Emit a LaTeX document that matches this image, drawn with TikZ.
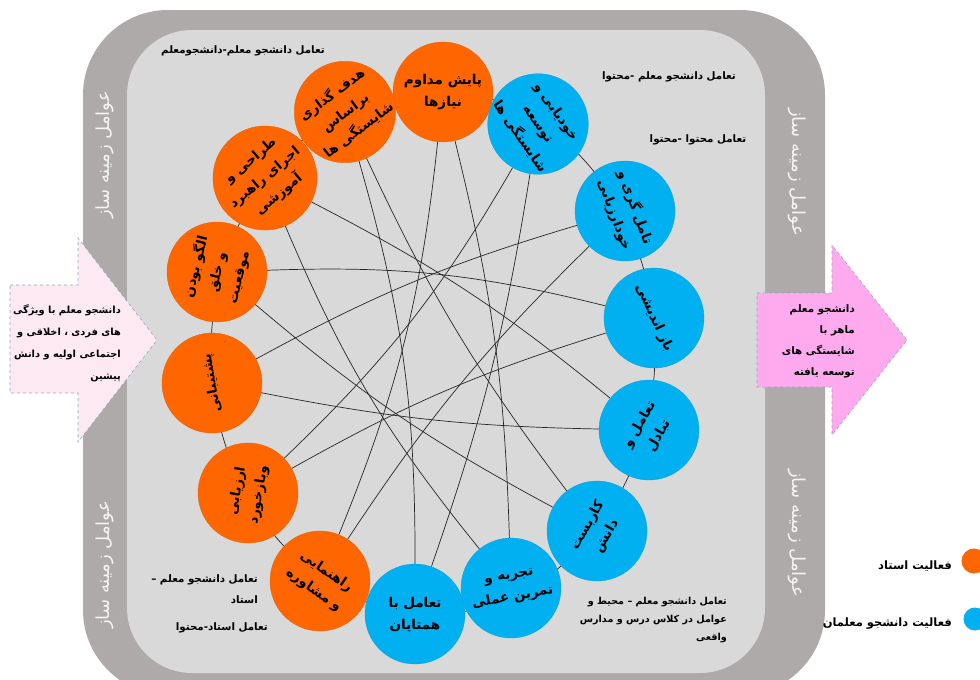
\documentclass[tikz,border=0pt]{standalone}
\usepackage{fontspec}
\newfontfamily\arabicfont[Script=Arabic]{DejaVu Sans}
\TeXXeTstate=1
\newcommand{\pers}[1]{\beginR#1\endR}
\definecolor{ostadorange}{HTML}{FF6600}
\definecolor{daneshblue}{HTML}{00B0F0}
\definecolor{innergray}{HTML}{D9D9D9}
\definecolor{outergray}{HTML}{AEAAAA}
\definecolor{inpink}{HTML}{FDE9F1}
\definecolor{outpink}{HTML}{FFAAEE}
\definecolor{dashblue}{HTML}{8EA9C1}
\pgfdeclarelayer{back}
\pgfdeclarelayer{links}
\pgfsetlayers{back,links,main}
\begin{document}
\begin{tikzpicture}[x=1pt,y=-1pt,
  ostad/.style={circle, fill=ostadorange, draw=ostadorange!92!black, line width=0.3pt, minimum size=100pt, inner sep=0pt, align=center, font=\arabicfont\bfseries\fontsize{13.5}{22}\selectfont},
  danesh/.style={ostad, fill=daneshblue, draw=daneshblue!92!black},
  link/.style={draw=black!85, line width=0.7pt},
  note/.style={align=right, inner sep=0pt, font=\arabicfont\bfseries\fontsize{10.3}{21}\selectfont},
  band/.style={text=white!96!black, inner sep=0pt, font=\arabicfont\fontsize{18}{20}\selectfont},
  arrowbox/.style={draw=dashblue, dashed, line width=0.6pt}]
\useasboundingbox (0,0) rectangle (980,680);
\begin{pgfonlayer}{back}
\fill[outergray, rounded corners=85pt] (83,10) rectangle (825,695);
\fill[innergray, rounded corners=65pt] (127,30) rectangle (765,673);
\draw[arrowbox, fill=inpink] (10,285) -- (78,285) -- (78,238) -- (157,340) -- (78,442) -- (78,393) -- (10,393) -- cycle;
\draw[arrowbox, fill=outpink] (757,293) -- (832,293) -- (832,245) -- (907,340) -- (832,435) -- (832,387) -- (757,387) -- cycle;
\end{pgfonlayer}
\node[ostad] (v1) at (443,92) {\pers{پایش مداوم}\\\pers{نیازها}};
\node[ostad, rotate=37] (v2) at (345,112) {\pers{هدف گذاری}\\\pers{براساس}\\\pers{شایستگی ها}};
\node[ostad, rotate=40] (v3) at (265,178) {\pers{طراحی و}\\\pers{اجرای راهبرد}\\\pers{آموزشی}};
\node[ostad, rotate=76] (v4) at (217,272) {\pers{الگو بودن}\\\pers{و خلق}\\\pers{موقعیت}};
\node[ostad, rotate=100] (v5) at (212,383) {\pers{پشتیبانی}};
\node[ostad, rotate=80] (v6) at (248,493) {\pers{ارزیابی}\\\pers{وبازخورد}};
\node[ostad, rotate=-35] (v7) at (320,581) {\pers{راهنمایی}\\\pers{و مشاوره}};
\node[danesh] (v8) at (415,614) {\pers{تعامل با}\\\pers{همتایان}};
\node[danesh, rotate=10] (v9) at (511,588) {\pers{تجربه و}\\\pers{تمرین عملی}};
\node[danesh, rotate=60] (v10) at (597,531) {\pers{کاربست}\\\pers{دانش}};
\node[danesh, rotate=60] (v11) at (649,430) {\pers{تعامل و}\\\pers{تبادل}};
\node[danesh, rotate=-65] (v12) at (654,318) {\pers{باز اندیشی}};
\node[danesh, rotate=-70] (v13) at (625,211) {\pers{تامل گری و}\\\pers{خودارزیابی}};
\node[danesh, rotate=-55] (v14) at (538,124) {\pers{خودیابی و}\\\pers{توسعه}\\\pers{شایستگی ها}};
\begin{pgfonlayer}{links}
\draw[link] (433,352) ellipse [x radius=222, y radius=262];
\draw[link] (v1) to[bend left=6] (v9);
\draw[link] (v2) to[bend left=8] (v8);
\draw[link] (v2) to[bend right=6] (v10);
\draw[link] (v3) to[bend left=6] (v11);
\draw[link] (v3) to[bend right=8] (v9);
\draw[link] (v4) to[bend left=8] (v12);
\draw[link] (v4) to[bend right=6] (v10);
\draw[link] (v5) to[bend left=6] (v13);
\draw[link] (v5) to[bend right=5] (v11);
\draw[link] (v6) to[bend left=6] (v12);
\draw[link] (v6) to[bend right=8] (v14);
\draw[link] (v7) to[bend right=8] (v1);
\draw[link] (v7) to[bend left=6] (v13);
\draw[link] (v8) to[bend right=5] (v14);
\end{pgfonlayer}
\node[note] (t1) at (243,51) {\pers{تعامل دانشجو معلم-دانشجومعلم}};
\node[note] (t2) at (669,77) {\pers{تعامل دانشجو معلم -محتوا}};
\node[note] (t3) at (698,140) {\pers{تعامل محتوا -محتوا}};
\node[note, anchor=east] (t4) at (258,589) {\pers{تعامل دانشجو معلم –}\\\pers{استاد}};
\node[note, anchor=east] (t5) at (268,628) {\pers{تعامل استاد-محتوا}};
\node[note, anchor=east, font=\arabicfont\bfseries\fontsize{9.6}{18}\selectfont] (t6) at (727,620) {\pers{تعامل دانشجو معلم – محیط و}\\\pers{عوامل در کلاس درس و مدارس}\\\pers{واقعی}};
\node[note, anchor=east, font=\arabicfont\bfseries\fontsize{9.8}{22}\selectfont] (in) at (121,343) {\pers{دانشجو معلم با ویژگی}\\\pers{های فردی ، اخلاقی و}\\\pers{اجتماعی اولیه و دانش}\\\pers{پیشین}};
\node[note, anchor=east, font=\arabicfont\bfseries\fontsize{10.3}{21}\selectfont] (out) at (855,341) {\pers{دانشجو معلم}\\\pers{ماهر با}\\\pers{شایستگی های}\\\pers{توسعه یافته}};
\node[band, rotate=90] (b1) at (105,155) {\pers{عوامل زمینه ساز}};
\node[band, rotate=90] (b2) at (105,565) {\pers{عوامل زمینه ساز}};
\node[band, rotate=-90] (b3) at (797,172) {\pers{عوامل زمینه ساز}};
\node[band, rotate=-90] (b4) at (797,533) {\pers{عوامل زمینه ساز}};
\node[circle, fill=ostadorange, minimum size=25pt, inner sep=0pt] (k1) at (974,561) {};
\node[note, anchor=east, font=\arabicfont\bfseries\fontsize{11.5}{14}\selectfont] (k1t) at (952,566) {\pers{فعالیت استاد}};
\node[circle, fill=daneshblue, minimum size=23pt, inner sep=0pt] (k2) at (975,619) {};
\node[note, anchor=east, font=\arabicfont\bfseries\fontsize{11.5}{14}\selectfont] (k2t) at (952,624) {\pers{فعالیت دانشجو معلمان}};
\end{tikzpicture}
\end{document}
